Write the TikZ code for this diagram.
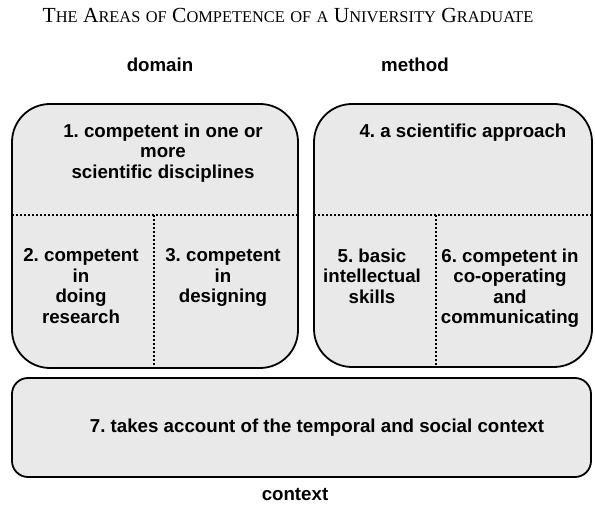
\documentclass[tikz,border=0pt]{standalone}
\usepackage{fontspec}
\setmainfont{Liberation Serif}
\setsansfont{Liberation Sans}
\usepackage{tikz}
\tikzset{>=latex}
\definecolor{boxgray}{gray}{0.915}
\newcommand\smcap[2]{#1{\fontsize{16.4}{16.4}\selectfont\MakeUppercase{#2}}}
\tikzstyle{area}=[draw=black,line width=1.8pt,fill=boxgray]
\tikzstyle{split}=[line width=2pt,dash pattern=on 2pt off 2pt]
\tikzstyle{lbl}=[inner sep=0,align=center,font=\sffamily\bfseries\fontsize{18.7}{20.5}\selectfont]

\begin{document}
\frenchspacing
\begin{tikzpicture}[x=1pt,y=-1pt]
  \useasboundingbox (0,0) rectangle (595,513);
  \def\Rb{38}
  \def\Rs{16}
  \def\yS{215.5}

  % TITLE
  \node[inner sep=0,anchor=base,font=\rmfamily\fontsize{21.5}{21.5}\selectfont] (title) at (288,23)
    {\smcap{T}{he} \smcap{A}{reas} \smcap{}{of} \smcap{C}{ompetence} \smcap{}{of} \smcap{}{a} \smcap{U}{niversity} \smcap{G}{raduate}};
  \node[lbl,anchor=base] (dom) at (160,72) {domain};
  \node[lbl,anchor=base] (meth) at (415,72) {method};

  % AREAS
  \draw[area,rounded corners=\Rb] (12,104) rectangle (298,368);
  \draw[area,rounded corners=\Rb] (314,104) rectangle (592,367);
  \draw[area,rounded corners=\Rs] (12,378) rectangle (591,477);

  % SPLITS
  \coordinate (L1) at (12,\yS);   \coordinate (L2) at (298,\yS);
  \coordinate (R1) at (314,\yS);  \coordinate (R2) at (592,\yS);
  \draw[split] (L1) -- (L2);
  \draw[split] (154,\yS) -- (154,367);
  \draw[split] (R1) -- (R2);
  \draw[split] (436,\yS) -- (436,366);

  % COMPETENCES
  \node[lbl,anchor=north] (c1) at (163,123.5) {1. competent in one or\\more\\scientific disciplines};
  \node[lbl,anchor=north] (c2) at (81,248.5) {2. competent\\in\\doing\\research};
  \node[lbl,anchor=north] (c3) at (223,248.5) {3. competent\\in\\designing};
  \node[lbl,anchor=north] (c4) at (463,123.5) {4. a scientific approach};
  \node[lbl,anchor=north] (c5) at (372,248.5) {5. basic\\intellectual\\skills};
  \node[lbl,anchor=north] (c6) at (510,248.5) {6. competent in\\co-operating\\and\\communicating};
  \node[lbl,anchor=base] (c7) at (317,432) {7. takes account of the temporal and social context};

  \node[lbl,anchor=base] (ctx) at (295,500) {context};
\end{tikzpicture}
\end{document}
